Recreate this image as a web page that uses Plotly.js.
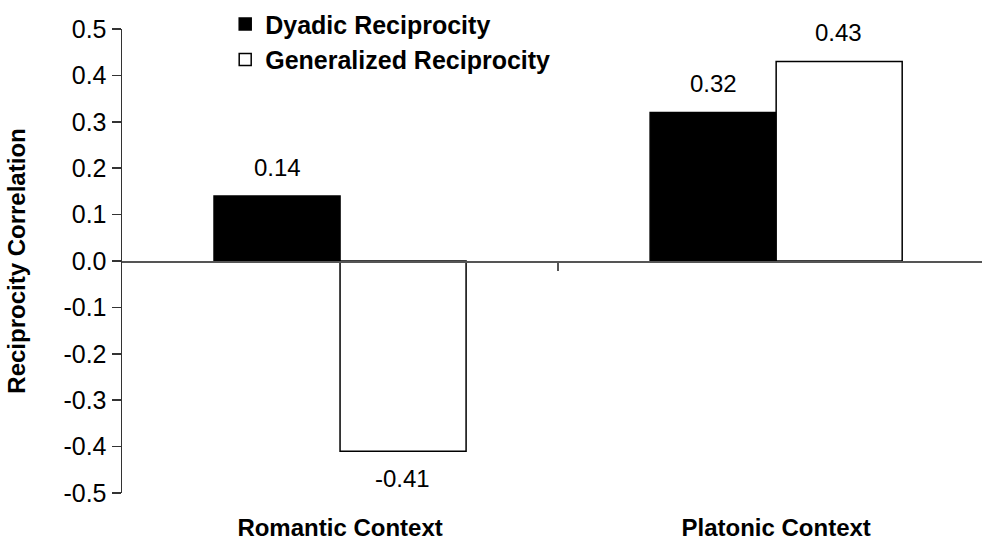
<!DOCTYPE html>
<html>
<head>
<meta charset="utf-8">
<script src="https://cdn.plot.ly/plotly-3.0.1.min.js"></script>
<style>
html,body{margin:0;padding:0;background:#fff;}
#chart{width:982px;height:544px;}
</style>
</head>
<body>
<div id="chart"></div>
<script>
const categories = ["Romantic Context", "Platonic Context"];
const seriesNames = ["Dyadic Reciprocity", "Generalized Reciprocity"];
const dyadic = [0.14, 0.32];
const generalized = [-0.41, 0.43];
const yTickVals = [-0.5, -0.4, -0.3, -0.2, -0.1, 0.0, 0.1, 0.2, 0.3, 0.4, 0.5];
const yTickText = ["-0.5", "-0.4", "-0.3", "-0.2", "-0.1", "0.0", "0.1", "0.2", "0.3", "0.4", "0.5"];
const boundaryTicks = [0.5];

const FONT = '"Liberation Sans", Arial, sans-serif';

const traces = [
  {
    type: 'bar', name: seriesNames[0], x: categories, y: dyadic,
    marker: {color: '#000000', line: {color: '#000000', width: 1.5}},
    hoverinfo: 'none'
  },
  {
    type: 'bar', name: seriesNames[1], x: categories, y: generalized,
    marker: {color: '#ffffff', line: {color: '#000000', width: 1.5}},
    hoverinfo: 'none'
  },
  {
    type: 'scatter', mode: 'markers', x: [], y: [], xaxis: 'x2', yaxis: 'y',
    showlegend: false, hoverinfo: 'none'
  }
];

const series = [dyadic, generalized];
const shifts = [-63, 62];
const annotations = [];
series.forEach((vals, s) => {
  vals.forEach((v, i) => {
    annotations.push({
      x: categories[i], y: v, xref: 'x', yref: 'y',
      text: v.toFixed(2), showarrow: false,
      xshift: shifts[s], yshift: v >= 0 ? 29 : -27,
      xanchor: 'center', yanchor: 'middle',
      font: {family: FONT, size: 24, color: '#000'}
    });
  });
});

const layout = {
  width: 982, height: 544,
  margin: {l: 122, r: 0, t: 29, b: 51},
  paper_bgcolor: '#fff', plot_bgcolor: '#fff',
  font: {family: FONT, color: '#000'},
  barmode: 'group', bargap: 0.422, bargroupgap: 0,
  showlegend: true,
  legend: {
    x: 0.12, y: 1.06, xanchor: 'left', yanchor: 'top',
    bgcolor: 'rgba(0,0,0,0)', borderwidth: 0,
    font: {family: FONT, size: 25, color: '#000', weight: 'bold'},
    traceorder: 'normal', tracegroupgap: 0
  },
  xaxis: {
    type: 'category', range: [-0.5, 1.472],
    showline: false, ticks: '', showgrid: false, zeroline: false,
    tickfont: {family: FONT, size: 24, color: '#000', weight: 'bold'},
    ticklabelstandoff: 18
  },
  xaxis2: {
    overlaying: 'x', anchor: 'free', position: 0.5, side: 'bottom',
    type: 'linear', range: [-0.5, 1.472],
    showline: true, linecolor: '#555', linewidth: 1.5,
    ticks: 'outside', tickvals: boundaryTicks, ticklen: 8, tickwidth: 1.5, tickcolor: '#555',
    showticklabels: false, showgrid: false, zeroline: false
  },
  yaxis: {
    range: [-0.5, 0.5], tickvals: yTickVals, ticktext: yTickText,
    showline: true, linecolor: '#333', linewidth: 1.5,
    ticks: 'outside', ticklen: 9, tickwidth: 1.5, tickcolor: '#333',
    showgrid: false, zeroline: false,
    tickfont: {family: FONT, size: 25, color: '#000'},
    title: {text: 'Reciprocity Correlation', standoff: 31,
      font: {family: FONT, size: 24, color: '#000', weight: 'bold'}},
    automargin: false
  },
  annotations: annotations
};

Plotly.newPlot('chart', traces, layout, {displayModeBar: false, staticPlot: true});
</script>
</body>
</html>
